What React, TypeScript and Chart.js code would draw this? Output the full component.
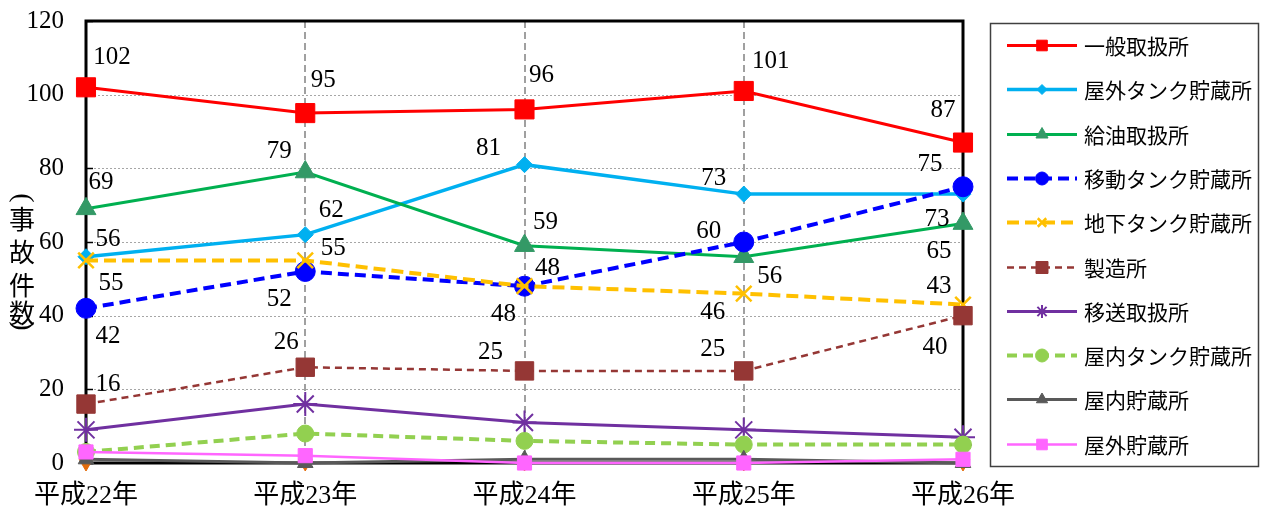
import React, { useEffect, useRef } from 'react';
import { Chart, registerables } from 'chart.js';
import { drawPoint } from 'chart.js/helpers';

Chart.register(...registerables);

// ---------- data ----------
const categories = ['平成22年', '平成23年', '平成24年', '平成25年', '平成26年'];
const yTicks = [0, 20, 40, 60, 80, 100, 120];
const yTitleOpen = '(';
const yTitleChars = ['事', '故', '件', '数'];
const yTitleClose = ')';

const seriesNames = [
  '一般取扱所',
  '屋外タンク貯蔵所',
  '給油取扱所',
  '移動タンク貯蔵所',
  '地下タンク貯蔵所',
  '製造所',
  '移送取扱所',
  '屋内タンク貯蔵所',
  '屋内貯蔵所',
  '屋外貯蔵所',
];

const ippanToriatsukai = [102, 95, 96, 101, 87];
const okugaiTank = [56, 62, 81, 73, 73];
const kyuyuToriatsukai = [69, 79, 59, 56, 65];
const idoTank = [42, 52, 48, 60, 75];
const chikaTank = [55, 55, 48, 46, 43];
const seizosho = [16, 26, 25, 25, 40];
const isoToriatsukai = [9, 16, 11, 9, 7];
const okunaiTank = [3, 8, 6, 5, 5];
const okunaiChozo = [1, 0, 1, 1, 0];
const okugaiChozo = [3, 2, 0, 0, 1];
const hiddenSeries = [0, 0, 0, 0, 0];

const seriesValues = [
  ippanToriatsukai,
  okugaiTank,
  kyuyuToriatsukai,
  idoTank,
  chikaTank,
  seizosho,
  isoToriatsukai,
  okunaiTank,
  okunaiChozo,
  okugaiChozo,
];

// ---------- styles ----------
type Style = {
  line: string;
  point: string;
  width: number;
  dash: number[];
  pointStyle: any;
  radius: number;
  legendRadius: number;
  pointBorder: number;
  rotation?: number;
};

const styles: Style[] = [
  { line: '#FF0000', point: '#FF0000', width: 3, dash: [], pointStyle: 'rect', radius: 13.5, legendRadius: 7.5, pointBorder: 1 },
  { line: '#00B0F0', point: '#00B0F0', width: 3.5, dash: [], pointStyle: 'rectRot', radius: 8, legendRadius: 5, pointBorder: 1 },
  { line: '#00B050', point: '#339966', width: 3, dash: [], pointStyle: 'triangle', radius: 11.5, legendRadius: 7, pointBorder: 1 },
  { line: '#0000FF', point: '#0000FF', width: 4, dash: [11, 6], pointStyle: 'circle', radius: 10, legendRadius: 6.5, pointBorder: 1 },
  { line: '#FFC000', point: '#FFC000', width: 4, dash: [12, 6], pointStyle: 'crossRot', radius: 11, legendRadius: 6, pointBorder: 2.5 },
  { line: '#953735', point: '#953735', width: 2.5, dash: [7, 5], pointStyle: 'rect', radius: 13, legendRadius: 8.5, pointBorder: 1 },
  { line: '#7030A0', point: '#7030A0', width: 3, dash: [], pointStyle: 'star', radius: 12, legendRadius: 6.5, pointBorder: 2 },
  { line: '#92D050', point: '#92D050', width: 4, dash: [10, 6], pointStyle: 'circle', radius: 8.5, legendRadius: 6.5, pointBorder: 1 },
  { line: '#595959', point: '#595959', width: 3, dash: [], pointStyle: 'triangle', radius: 9, legendRadius: 6.5, pointBorder: 1 },
  { line: '#FF66FF', point: '#FF66FF', width: 2.5, dash: [], pointStyle: 'rect', radius: 10, legendRadius: 7.5, pointBorder: 1 },
];

// label offsets relative to the point (per series, per category)
const labelOffsets: Record<number, [number, number][]> = {
  0: [[26, -30], [18, -33], [17, -34], [27, -30], [-20, -32]],
  1: [[22, -17], [26, -24], [-36, -16], [-30, -16], [-26, 25]],
  2: [[15, -26], [-26, -21], [21, -23], [26, 20], [-24, 28]],
  3: [[22, 28], [-26, 28], [-21, 28], [-35, -11], [-33, -22]],
  4: [[25, 23], [28, -12], [23, -18], [-31, 19], [-24, -18]],
  5: [[22, -20], [-19, -25], [-34, -18], [-31, -21], [-28, 32]],
};

const SERIF = '"Liberation Serif", "DejaVu Serif", serif';
const CJK = '"Noto Sans CJK JP", "Noto Sans", sans-serif';

const framePlugin = {
  id: 'framePlugin',
  beforeDatasetsDraw(chart: any) {
    const { ctx, chartArea: a, scales } = chart;
    const ys = scales.y;
    const xs = scales.x;
    ctx.save();
    ctx.strokeStyle = '#A6A6A6';
    ctx.lineWidth = 1;
    ctx.setLineDash([2, 2]);
    yTicks.slice(1, -1).forEach((v) => {
      const y = Math.round(ys.getPixelForValue(v)) + 0.5;
      ctx.beginPath();
      ctx.moveTo(a.left, y);
      ctx.lineTo(a.right, y);
      ctx.stroke();
    });
    ctx.strokeStyle = '#A0A0A0';
    ctx.lineWidth = 2;
    ctx.setLineDash([7, 4]);
    categories.slice(1, -1).forEach((_, i) => {
      const x = Math.round(xs.getPixelForValue(i + 1));
      ctx.beginPath();
      ctx.moveTo(x, a.top);
      ctx.lineTo(x, a.bottom);
      ctx.stroke();
    });
    ctx.setLineDash([]);
    ctx.strokeStyle = '#000';
    ctx.lineWidth = 1.5;
    yTicks.forEach((v) => {
      const y = Math.round(ys.getPixelForValue(v)) + 0.5;
      ctx.beginPath();
      ctx.moveTo(a.left, y);
      ctx.lineTo(a.left + 7, y);
      ctx.stroke();
    });
    ctx.lineWidth = 3;
    ctx.strokeRect(a.left, a.top, a.right - a.left, a.bottom - a.top);
    ctx.restore();
  },
};

const labelPlugin = {
  id: 'labelPlugin',
  afterDatasetsDraw(chart: any) {
    const { ctx } = chart;
    ctx.save();
    ctx.font = `25px ${SERIF}`;
    ctx.fillStyle = '#000';
    ctx.textAlign = 'center';
    ctx.textBaseline = 'middle';
    Object.keys(labelOffsets).forEach((k) => {
      const di = Number(k);
      const meta = chart.getDatasetMeta(di);
      const offs = labelOffsets[di];
      meta.data.forEach((pt: any, i: number) => {
        const v = seriesValues[di][i];
        const [dx, dy] = offs[i];
        ctx.fillText(String(v), pt.x + dx, pt.y + dy);
      });
    });
    ctx.restore();
  },
};

const titleLegendPlugin = {
  id: 'titleLegendPlugin',
  afterDraw(chart: any) {
    const { ctx } = chart;
    ctx.save();
    // vertical y-axis title
    ctx.fillStyle = '#000';
    ctx.textAlign = 'center';
    ctx.textBaseline = 'middle';
    const drawRotated = (ch: string, x: number, y: number) => {
      ctx.save();
      ctx.translate(x, y);
      ctx.rotate(Math.PI / 2);
      ctx.font = `28px ${SERIF}`;
      ctx.fillText(ch, 0, 0);
      ctx.restore();
    };
    drawRotated(yTitleOpen, 22, 198);
    ctx.font = `26px ${CJK}`;
    const titleYs = [219, 252, 285, 313];
    yTitleChars.forEach((c, i) => ctx.fillText(c, 22, titleYs[i]));
    drawRotated(yTitleClose, 22, 326);

    // legend box
    const bx = 990, by = 23, bw = 268, bh = 443;
    ctx.strokeStyle = '#404040';
    ctx.lineWidth = 1.5;
    ctx.strokeRect(bx + 0.5, by + 0.5, bw, bh);
    const rowY0 = 45;
    const rowStep = 44.3;
    const lx1 = 1007, lx2 = 1077;
    seriesNames.forEach((name, i) => {
      const s = styles[i];
      const y = Math.round(rowY0 + rowStep * i) + 0.5;
      ctx.save();
      ctx.strokeStyle = s.line;
      ctx.lineWidth = s.width;
      ctx.setLineDash(s.dash);
      ctx.beginPath();
      ctx.moveTo(lx1, y);
      ctx.lineTo(lx2, y);
      ctx.stroke();
      ctx.restore();
      ctx.save();
      ctx.fillStyle = s.point;
      ctx.strokeStyle = s.point;
      ctx.lineWidth = s.pointBorder;
      drawPoint(ctx, { pointStyle: s.pointStyle, rotation: s.rotation || 0, radius: s.legendRadius, borderWidth: s.pointBorder } as any, (lx1 + lx2) / 2, y);
      ctx.restore();
      ctx.font = `21px ${CJK}`;
      ctx.fillStyle = '#000';
      ctx.textAlign = 'left';
      ctx.textBaseline = 'middle';
      ctx.fillText(name, 1084, y + 1);
    });
    ctx.restore();
  },
};

export default function App() {
  const ref = useRef<HTMLCanvasElement | null>(null);
  useEffect(() => {
    document.body.style.margin = '0';
    if (!ref.current) return;
    const datasets: any[] = seriesValues.map((vals, i) => {
      const s = styles[i];
      return {
        label: seriesNames[i],
        data: vals,
        borderColor: s.line,
        backgroundColor: s.point,
        borderWidth: s.width,
        borderDash: s.dash,
        pointStyle: s.pointStyle,
        pointRadius: s.radius,
        pointHoverRadius: s.radius,
        pointBackgroundColor: s.point,
        pointBorderColor: s.point,
        pointBorderWidth: s.pointBorder,
        pointRotation: s.rotation || 0,
        tension: 0,
        fill: false,
        clip: false,
        order: 20 - i,
      };
    });
    datasets.push({
      label: '',
      data: hiddenSeries,
      showLine: false,
      borderColor: '#E46C0A',
      backgroundColor: '#E46C0A',
      pointStyle: 'triangle',
      pointRotation: 180,
      pointRadius: 8,
      pointBackgroundColor: '#E46C0A',
      pointBorderColor: '#E46C0A',
      pointBorderWidth: 1,
      clip: false,
      order: 100,
    });

    const chart = new Chart(ref.current, {
      type: 'line',
      data: { labels: categories, datasets },
      options: {
        animation: false,
        responsive: false,
        events: [],
        layout: { padding: { top: 21, right: 298, bottom: 0, left: 0 } },
        plugins: {
          legend: { display: false },
          tooltip: { enabled: false },
          title: { display: false },
        },
        scales: {
          x: {
            type: 'category',
            offset: false,
            grid: { display: false, drawTicks: false },
            border: { display: false },
            ticks: {
              color: '#000',
              padding: 18,
              maxRotation: 0,
              autoSkip: false,
              font: { size: 26, family: `"Liberation Serif", "Noto Sans CJK JP", serif` },
            },
            afterFit: (scale: any) => {
              scale.height = 45;
              scale.paddingLeft = 0;
              scale.paddingRight = 0;
            },
          },
          y: {
            min: 0,
            max: 120,
            grid: { display: false, drawTicks: false },
            border: { display: false },
            ticks: {
              stepSize: 20,
              color: '#000',
              padding: 22,
              font: { size: 25, family: SERIF },
            },
            afterFit: (scale: any) => {
              scale.width = 86;
              scale.paddingTop = 0;
              scale.paddingBottom = 0;
            },
          },
        },
      },
      plugins: [framePlugin, labelPlugin, titleLegendPlugin],
    });
    return () => chart.destroy();
  }, []);

  return (
    <div style={{ width: 1261, height: 508 }}>
      <canvas ref={ref} width={1261} height={508} style={{ display: 'block' }} />
    </div>
  );
}
